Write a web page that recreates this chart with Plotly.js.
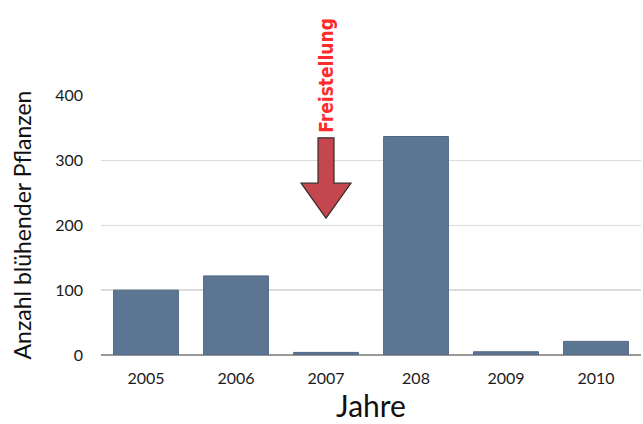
<!DOCTYPE html>
<html>
<head>
<meta charset="utf-8">
<script src="https://cdn.plot.ly/plotly-3.0.1.min.js"></script>
<style>html,body{margin:0;padding:0;background:#fff;}#chart{width:643px;height:424px;}</style>
</head>
<body>
<div id="chart"></div>
<script>
const years = ["2005", "2006", "2007", "208", "2009", "2010"];
const counts = [100, 122, 4, 337, 5, 21];
const yTicks = [0, 100, 200, 300, 400];
const markerLabel = "Freistellung";
const markerYear = "2007";

const font = "Lato, 'DejaVu Sans', sans-serif";
const markerIndex = years.indexOf(markerYear);

const trace = {
  type: "bar",
  x: years,
  y: counts,
  marker: {color: "#5b7592", line: {color: "#4f6782", width: 1}},
  hoverinfo: "skip"
};

const layout = {
  width: 643, height: 424,
  margin: {l: 101, r: 2, t: 95, b: 69},
  paper_bgcolor: "#ffffff",
  plot_bgcolor: "#ffffff",
  bargap: 0.28,
  showlegend: false,
  font: {family: font, color: "#222"},
  xaxis: {
    type: "category",
    range: [-0.5, years.length - 0.5],
    autorange: false,
    tickfont: {size: 16, color: "#1a1a1a"},
    showgrid: false,
    ticks: "",
    ticklabelstandoff: 12,
    title: {text: "Jahre", font: {size: 30, color: "#111"}, standoff: 4}
  },
  yaxis: {
    range: [0, 401],
    autorange: false,
    tickvals: yTicks,
    ticktext: yTicks.map(String),
    tickfont: {size: 16, color: "#1a1a1a"},
    showgrid: true,
    gridcolor: "#dcdcdc",
    gridwidth: 1.5,
    zeroline: true,
    zerolinecolor: "#999",
    zerolinewidth: 2,
    ticks: "",
    ticklabelstandoff: 17,
    title: {text: "Anzahl blühender Pflanzen", font: {size: 23, color: "#111"}, standoff: 17}
  },
  shapes: [{
    type: "path",
    xref: "paper", yref: "y",
    path: "M 0.4019,335 L 0.4315,335 L 0.4315,265 L 0.4630,265 L 0.4167,211 L 0.3704,265 L 0.4019,265 Z",
    fillcolor: "#c4464f",
    line: {color: "#3a2a2a", width: 1.2}
  }],
  annotations: [{
    xref: "x", yref: "y",
    x: markerIndex, y: 339,
    text: "<b>" + markerLabel + "</b>",
    textangle: -90,
    showarrow: false,
    xanchor: "center", yanchor: "bottom",
    font: {size: 19, color: "#ff2a2a", family: "'DejaVu Sans Condensed', 'DejaVu Sans', sans-serif"}
  }]
};

Plotly.newPlot("chart", [trace], layout, {displayModeBar: false, staticPlot: true});
</script>
</body>
</html>
